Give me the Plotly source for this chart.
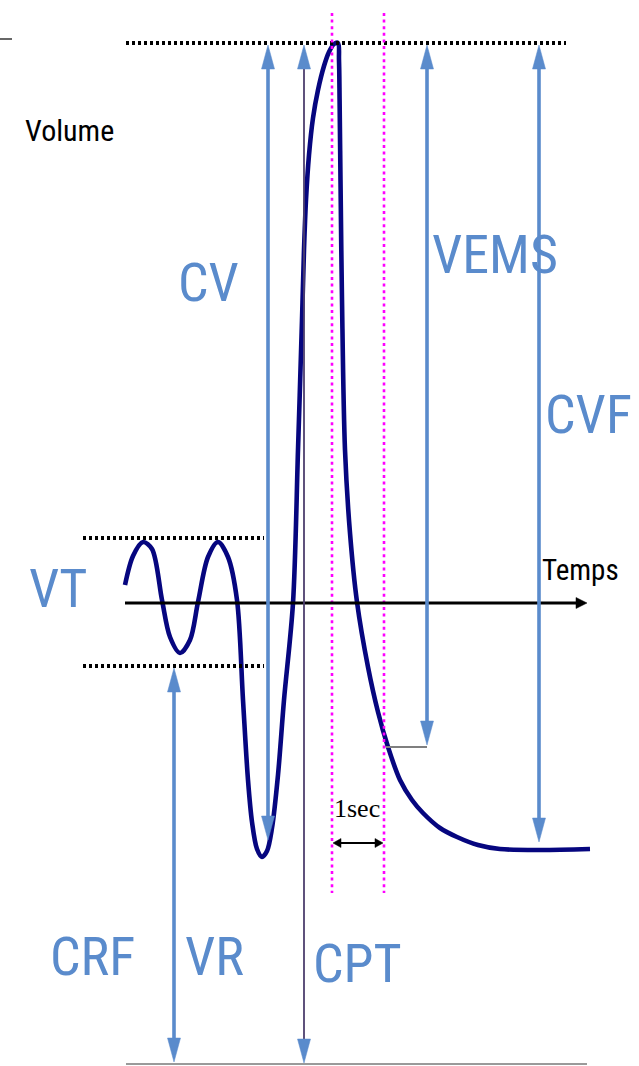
import plotly.graph_objects as go

# ---------------- data (pixel-like units; y grows downward) ----------------
# spirogram curve
curve_x = [125, 133, 143, 152, 162, 170, 180, 190, 198, 208, 218, 228, 237, 243, 248, 252, 257, 262, 267,
           272, 278, 284, 293, 298, 302, 304, 306, 309, 313, 318, 324, 329, 334, 338, 339, 339.6, 340.5,
           342, 345, 350, 357, 368, 378, 388, 400, 412, 423, 440, 457, 478, 500, 540, 590]
curve_y = [585, 556, 542, 549, 600, 637, 653, 640, 602, 557, 542, 557, 600, 700, 780, 822, 849, 857, 851,
           828, 775, 700, 603, 450, 320, 250, 200, 155, 118, 90, 66, 52, 44, 43, 60, 100, 180,
           300, 450, 533, 602, 667, 712, 747, 780, 800, 813, 828, 837, 845, 849, 850, 849]

# double-headed volume arrows: x position, top tip, bottom tip
arrow_names = ["CV", "CPT", "VEMS", "CVF", "CRF"]
arrow_x = [268, 304, 427, 539, 174]
arrow_top = [45, 45, 45, 45, 668]
arrow_bottom = [840, 1063, 745, 842, 1062]

# blue labels
label_text = ["CV", "VEMS", "CVF", "VT", "CRF", "VR", "CPT"]
label_x = [208, 495, 588, 58, 92, 214, 357]
label_y = [282, 254, 414, 588, 956, 956, 963]

# reference levels (dotted)
tlc_level = 43          # top dotted line
vt_top, vt_bottom = 538, 666
time_axis_y = 603
rv_level = 1064
fev1_level = 747
one_sec_x = [332, 384]

# ---------------- styling ----------------
BLUE = "#5a8bcc"
NAVY = "#06067f"
MAGENTA = "#ff00ff"
LABEL_FONT = "Liberation Sans Narrow, Roboto Condensed, DejaVu Sans Condensed, Open Sans, sans-serif"

fig = go.Figure()
shapes = []
annotations = []


def line(x0, y0, x1, y1, color, width, dash=None, layer="above"):
    d = dict(color=color, width=width)
    if dash:
        d["dash"] = dash
    shapes.append(dict(type="line", xref="x", yref="y", x0=x0, y0=y0, x1=x1, y1=y1,
                       line=d, layer=layer))


def head(x, y_tip, direction, color, length=24, half=6.5):
    # direction: -1 -> pointing up, +1 -> pointing down (y grows downward)
    yb = y_tip - direction * length
    shapes.append(dict(type="path", xref="x", yref="y",
                       path=f"M {x},{y_tip} L {x - half},{yb} L {x + half},{yb} Z",
                       fillcolor=color, line=dict(color=color, width=0.5)))


def hhead(x_tip, y, direction, color, length=9, half=5):
    # direction: +1 pointing right, -1 pointing left
    xb = x_tip - direction * length
    shapes.append(dict(type="path", xref="x", yref="y",
                       path=f"M {x_tip},{y} L {xb},{y - half} L {xb},{y + half} Z",
                       fillcolor=color, line=dict(color=color, width=0.5)))


# small tick at top-left corner
line(0, 39, 12, 39, "black", 1.2)

# dotted reference lines
line(126, tlc_level, 566, tlc_level, "black", 4, dash="3px,3px")
line(83, vt_top, 264, vt_top, "black", 4, dash="3px,3px")
line(83, vt_bottom, 264, vt_bottom, "black", 4, dash="3px,3px")
for xv in one_sec_x:
    line(xv, 13, xv, 893, MAGENTA, 2.6, dash="3px,3.6px")

# time axis with arrow
line(125, time_axis_y, 578, time_axis_y, "black", 3)
hhead(587, time_axis_y, 1, "black", length=11, half=5.5)

# residual volume base line
line(126, rv_level, 587, rv_level, "#9a9a9a", 2)

# FEV1 horizontal marker
line(386, fev1_level, 427, fev1_level, "#7f7f7f", 2)

# volume arrows
for name, ax_, yt, yb in zip(arrow_names, arrow_x, arrow_top, arrow_bottom):
    if name == "CPT":
        line(ax_, yt + 20, ax_, yb - 20, "#4d3f6e", 1.8)
    else:
        line(ax_, yt + 20, ax_, yb - 20, BLUE, 3.6)
    head(ax_, yt, -1, BLUE)
    head(ax_, yb, 1, BLUE)

# 1 sec arrow
line(340, 843, 376, 843, "black", 2)
hhead(333, 843, -1, "black", length=8, half=4.5)
hhead(383, 843, 1, "black", length=8, half=4.5)

# curve
fig.add_trace(go.Scatter(x=curve_x, y=curve_y, mode="lines",
                         line=dict(color=NAVY, width=4.6, shape="spline", smoothing=0.9),
                         hoverinfo="skip", showlegend=False))

# texts
for t, x, y in zip(label_text, label_x, label_y):
    annotations.append(dict(x=x, y=y, xref="x", yref="y", text=t, showarrow=False,
                            xanchor="center", yanchor="middle",
                            font=dict(family=LABEL_FONT, size=54, color=BLUE)))

annotations.append(dict(x=69, y=130, xref="x", yref="y", text="Volume", showarrow=False,
                        xanchor="center", yanchor="middle",
                        font=dict(family=LABEL_FONT, size=30, color="black")))
annotations.append(dict(x=580, y=570, xref="x", yref="y", text="Temps", showarrow=False,
                        xanchor="center", yanchor="middle",
                        font=dict(family=LABEL_FONT, size=29, color="black")))
annotations.append(dict(x=357, y=808, xref="x", yref="y", text="1sec", showarrow=False,
                        xanchor="center", yanchor="middle",
                        font=dict(family="Liberation Serif, DejaVu Serif, serif", size=26, color="black")))

fig.update_layout(
    width=639, height=1066,
    margin=dict(l=0, r=0, t=0, b=0),
    paper_bgcolor="white", plot_bgcolor="white",
    xaxis=dict(range=[0, 639], visible=False, fixedrange=True),
    yaxis=dict(range=[1066, 0], visible=False, fixedrange=True),
    shapes=shapes, annotations=annotations,
    showlegend=False,
)

fig.write_html("out.html", config={"displayModeBar": False, "staticPlot": True},
               post_script="document.body.style.margin='0px';document.body.style.overflow='hidden';")
